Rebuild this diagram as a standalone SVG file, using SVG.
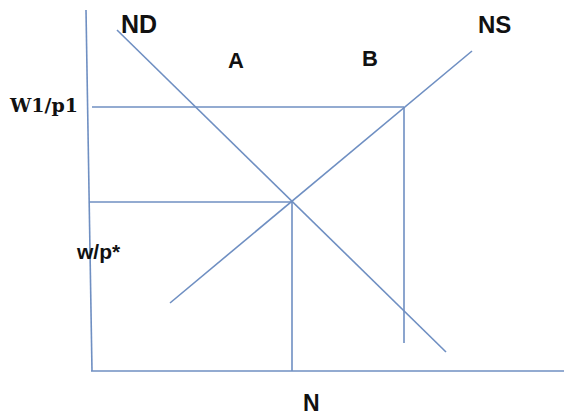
<svg xmlns="http://www.w3.org/2000/svg" width="564" height="415" viewBox="0 0 564 415">
<style>
.ln{stroke:#6f8fc2;stroke-width:1.6;fill:none}
.lb{font-family:"Liberation Sans",Arial,sans-serif;font-weight:bold;fill:#111}
.sf{font-family:"DejaVu Serif","Liberation Serif",serif;font-weight:bold;fill:#111}
</style>
<rect width="564" height="415" fill="#fff"/>
<g id="connectors">
<line class="ln" x1="86" y1="10" x2="92" y2="371"/>
<line class="ln" x1="91" y1="371" x2="564" y2="371"/>
<line class="ln" x1="117" y1="30" x2="446" y2="352"/>
<line class="ln" x1="170" y1="303" x2="472" y2="51"/>
<line class="ln" x1="92" y1="107" x2="404" y2="107"/>
<line class="ln" x1="404" y1="107" x2="404" y2="343"/>
<line class="ln" x1="89" y1="202" x2="292" y2="202"/>
<line class="ln" x1="292" y1="202" x2="292" y2="371"/>
</g>
<g id="ND"><text class="lb" x="121" y="33" font-size="25">ND</text></g>
<g id="NS"><text class="lb" x="478" y="33" font-size="24">NS</text></g>
<g id="A"><text class="lb" x="228" y="68" font-size="22">A</text></g>
<g id="B"><text class="lb" x="362" y="66" font-size="22">B</text></g>
<g id="W1p1"><text class="sf" x="10" y="112" font-size="19">W1/p1</text></g>
<g id="wpstar"><text class="lb" x="77" y="259" font-size="21">w/p*</text></g>
<g id="N"><text class="lb" x="303" y="411" font-size="23">N</text></g>
</svg>
